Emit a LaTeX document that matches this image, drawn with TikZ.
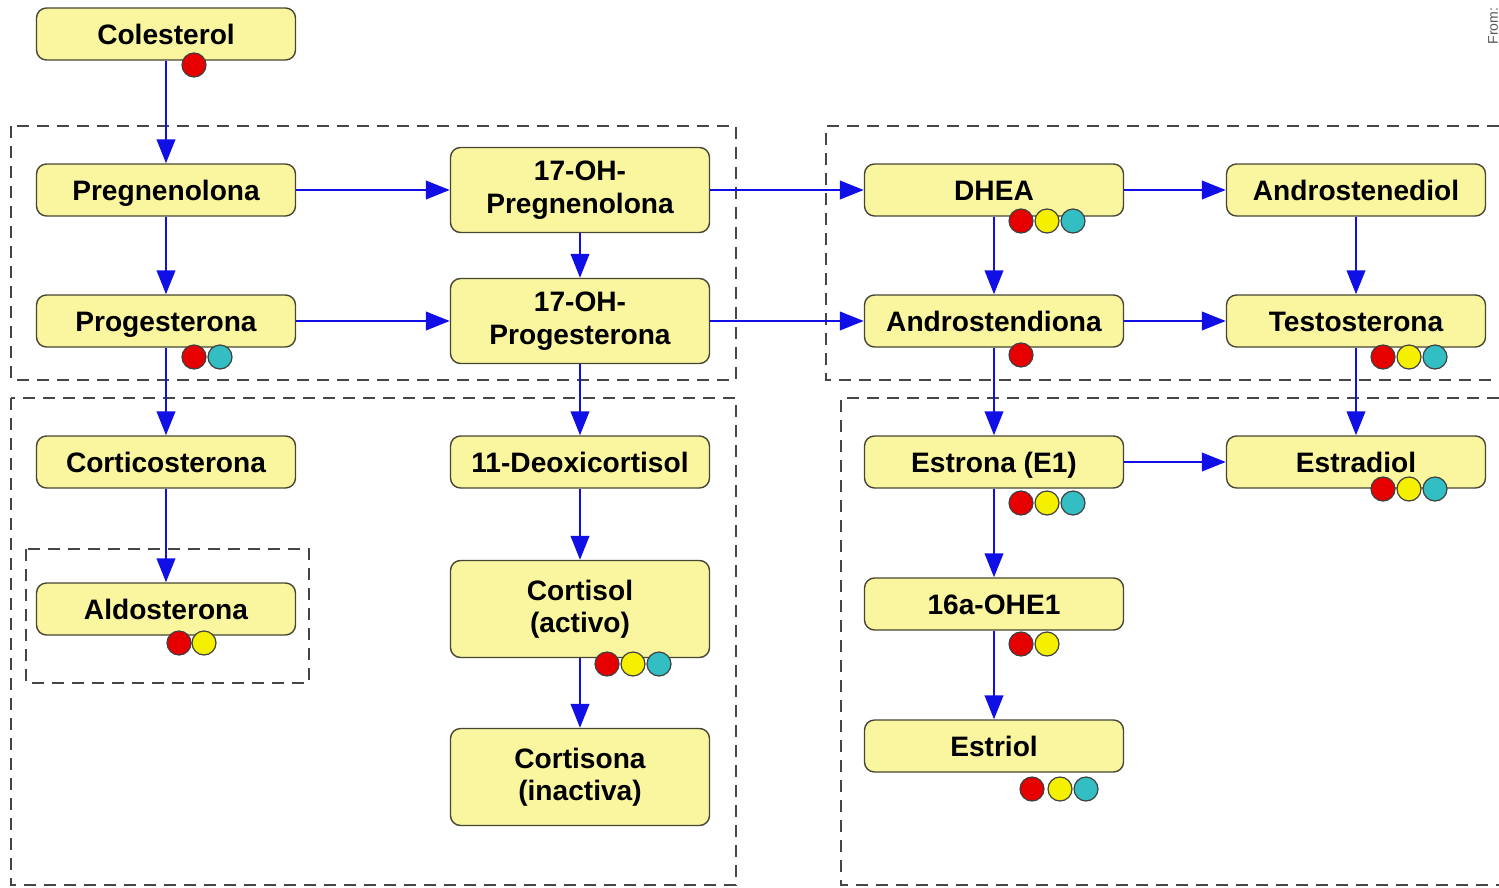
\documentclass[tikz,border=0pt]{standalone}
\usepackage{fontspec}
\setmainfont{Liberation Sans}
\usetikzlibrary{arrows.meta,positioning}

\definecolor{boxfill}{RGB}{250,246,160}
\definecolor{boxline}{RGB}{70,70,50}
\definecolor{flowblue}{RGB}{15,15,230}
\definecolor{groupgray}{RGB}{70,70,70}
\definecolor{dotred}{RGB}{230,0,0}
\definecolor{dotyellow}{RGB}{245,240,0}
\definecolor{dotcyan}{RGB}{50,190,195}

\begin{document}
\begin{tikzpicture}[
  x=0.25mm, y=-0.25mm,
  >={Triangle[length=6mm,width=4.6mm]},
  box/.style={draw=boxline, fill=boxfill, rounded corners=2.5mm, align=center,
              font=\bfseries\fontsize{20}{23}\selectfont, line width=0.35mm,
              minimum width=64.75mm, minimum height=13mm, inner sep=0pt,
              text height=14.8pt, text depth=0pt},
  tallbox/.style={box, minimum height=21.25mm, text height=, text depth=},
  bigbox/.style={box, minimum height=24.25mm, text height=, text depth=},
  flow/.style={->, draw=flowblue, line width=0.7mm},
  group/.style={draw=groupgray, dash pattern=on 3mm off 2mm, line width=0.4mm},
  dot/.style={circle, draw=black!75, line width=0.3mm, minimum size=6mm, inner sep=0pt}
]
\useasboundingbox (0,0) rectangle (1499,887);

% dashed groups
\draw[group] (11,126) rectangle (736,380);
\draw[group] (11,398) rectangle (736,885);
\draw[group] (26,549) rectangle (309,683);
\draw[group] (1499,126) -| (826,380) -- (1499,380);
\draw[group] (1499,398) -| (841,885) -- (1499,885);

\node[rotate=90, font=\fontsize{10}{12}\selectfont, text=black!65] (src) at (1493,26) {From:};

% left column
\node[box] (chol) at (166,34) {Colesterol};
\node[box] (preg) at (166,190) {Pregnenolona};
\node[box] (prog) at (166,321) {Progesterona};
\node[box] (cort) at (166,462) {Corticosterona};
\node[box] (aldo) at (166,609) {Aldosterona};

% middle column
\node[tallbox] (ohpreg) at (580,190) {17-OH-\\Pregnenolona};
\node[tallbox] (ohprog) at (580,321) {17-OH-\\Progesterona};
\node[box] (deoxi) at (580,462) {11-Deoxicortisol};
\node[bigbox] (cortisol) at (580,609) {Cortisol\\(activo)};
\node[bigbox] (cortisona) at (580,777) {Cortisona\\(inactiva)};

% right columns
\node[box] (dhea) at (994,190) {DHEA};
\node[box] (adiol) at (1356,190) {Androstenediol};
\node[box] (adiona) at (994,321) {Androstendiona};
\node[box] (testo) at (1356,321) {Testosterona};
\node[box] (e1) at (994,462) {Estrona (E1)};
\node[box] (e2) at (1356,462) {Estradiol};
\node[box] (ohe1) at (994,604) {16a-OHE1};
\node[box] (e3) at (994,746) {Estriol};

% connectors
\draw[flow] (chol) -- (preg);
\draw[flow] (preg) -- (ohpreg);
\draw[flow] (ohpreg) -- (dhea);
\draw[flow] (dhea) -- (adiol);
\draw[flow] (prog) -- (ohprog);
\draw[flow] (ohprog) -- (adiona);
\draw[flow] (adiona) -- (testo);
\draw[flow] (e1) -- (e2);
\draw[flow] (preg) -- (prog);
\draw[flow] (ohpreg) -- (ohprog);
\draw[flow] (dhea) -- (adiona);
\draw[flow] (adiol) -- (testo);
\draw[flow] (prog) -- (cort);
\draw[flow] (ohprog) -- (deoxi);
\draw[flow] (adiona) -- (e1);
\draw[flow] (testo) -- (e2);
\draw[flow] (cort) -- (aldo);
\draw[flow] (deoxi) -- (cortisol);
\draw[flow] (cortisol) -- (cortisona);
\draw[flow] (e1) -- (ohe1);
\draw[flow] (ohe1) -- (e3);

% markers
\node[dot, fill=dotred] (chol-r) at (194,65) {};
\node[dot, fill=dotred] (prog-r) at (194,357) {};
\node[dot, fill=dotcyan] (prog-c) at (220,357) {};
\node[dot, fill=dotred] (aldo-r) at (179,643) {};
\node[dot, fill=dotyellow] (aldo-y) at (204,643) {};
\node[dot, fill=dotred] (cortisol-r) at (607,664) {};
\node[dot, fill=dotyellow] (cortisol-y) at (633,664) {};
\node[dot, fill=dotcyan] (cortisol-c) at (659,664) {};
\node[dot, fill=dotred] (dhea-r) at (1021,221) {};
\node[dot, fill=dotyellow] (dhea-y) at (1047,221) {};
\node[dot, fill=dotcyan] (dhea-c) at (1073,221) {};
\node[dot, fill=dotred] (adiona-r) at (1021,355) {};
\node[dot, fill=dotred] (testo-r) at (1383,357) {};
\node[dot, fill=dotyellow] (testo-y) at (1409,357) {};
\node[dot, fill=dotcyan] (testo-c) at (1435,357) {};
\node[dot, fill=dotred] (e1-r) at (1021,503) {};
\node[dot, fill=dotyellow] (e1-y) at (1047,503) {};
\node[dot, fill=dotcyan] (e1-c) at (1073,503) {};
\node[dot, fill=dotred] (e2-r) at (1383,489) {};
\node[dot, fill=dotyellow] (e2-y) at (1409,489) {};
\node[dot, fill=dotcyan] (e2-c) at (1435,489) {};
\node[dot, fill=dotred] (ohe1-r) at (1021,644) {};
\node[dot, fill=dotyellow] (ohe1-y) at (1047,644) {};
\node[dot, fill=dotred] (e3-r) at (1032,789) {};
\node[dot, fill=dotyellow] (e3-y) at (1060,789) {};
\node[dot, fill=dotcyan] (e3-c) at (1086,789) {};

\end{tikzpicture}
\end{document}
